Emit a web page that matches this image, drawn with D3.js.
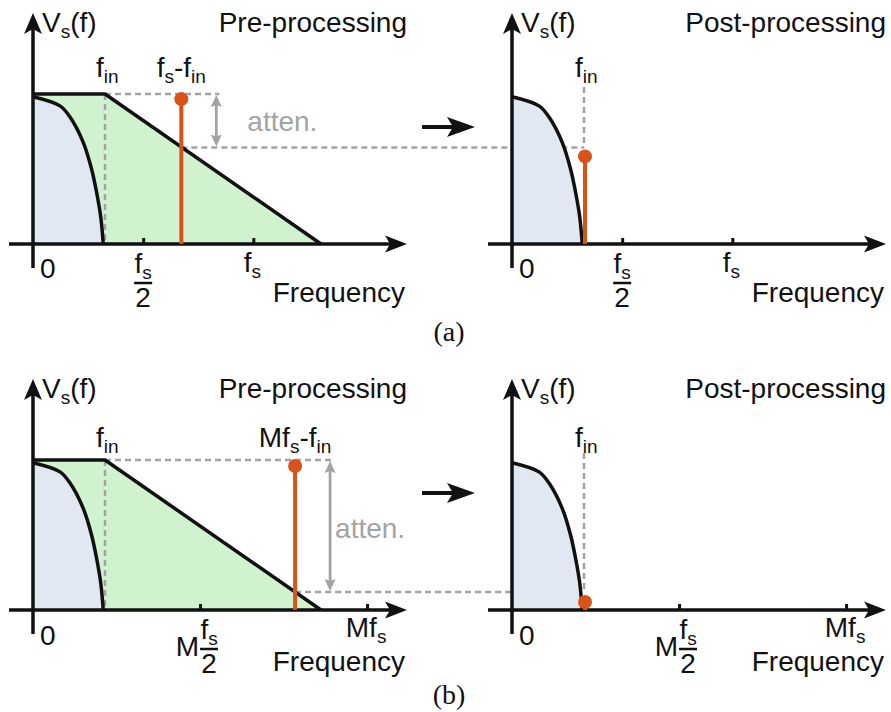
<!DOCTYPE html>
<meta charset="utf-8">
<style>
body { margin: 0; background: #fff; }
svg text { font-family: "Liberation Sans", Arial, Helvetica, sans-serif; fill: #111; }
svg text.caption { font-family: "Liberation Serif", "Times New Roman", serif; }
</style>
<body>
<script src="https://d3js.org/d3.v7.min.js"></script>
<script>
// spectra: x in units of f_in, y as a fraction of the passband level
var envelope = [[0, 0], [0, 1], [1, 1], [4, 0]];   // anti-alias filter response
var signal = [[0, 0.982], [0.375, 0.921], [0.514, 0.846], [0.699, 0.676],
              [0.815, 0.497], [0.885, 0.34], [0.94, 0.183], [0.976, 0]];

// one entry per row: (a) plain sampling, (b) oversampled by M
var captions = ["(a)", "(b)"];
var sampleRate = [3.06, 4.64];          // f_s and M·f_s, in units of f_in
var tickFractions = [0.5, 1];
var imagePre = [0.966, 0.96];           // image tone before filtering
var attenLevel = [0.644, 0.12];         // filter gain at the image
var imagePost = [0.584, 0.053];         // tone folded back to f_in
var halfPrefix = ["", "M"];
var fullLabels = [[["f", 0], ["s", 1]], [["Mf", 0], ["s", 1]]];
var imageLabels = [[["f", 0], ["s", 1], ["-f", 0], ["in", 1]],
                   [["Mf", 0], ["s", 1], ["-f", 0], ["in", 1]]];
var titles = ["Pre-processing", "Post-processing"];

// layout
var W = 891, H = 712;
var colX = [33, 512];
var axisY = [244, 610];
var unit = 72, ph = 150;
var black = "#111", grey = "#a3a3a3", orange = "#d95319";
var FS = 28;

var svg = d3.select("body").append("svg")
    .attr("width", W)
    .attr("height", H);

function rich(g, x, y, parts, anchor, size, color) {
  size = size || FS;
  var t = g.append("text")
      .attr("x", x).attr("y", y)
      .attr("text-anchor", anchor || "start")
      .style("font-size", size + "px");
  if (color) t.style("fill", color);
  var shift = 0;
  parts.forEach(function(p) {
    var s = p[1] ? Math.round(size * 0.22) : 0;
    t.append("tspan").text(p[0])
        .attr("dy", s - shift)
        .style("font-size", (p[1] ? size * 0.68 : size) + "px");
    shift = s;
  });
  return t;
}

function head(g, x, y, angle, len, half, notch, color) {
  g.append("path")
      .attr("d", "M0,0L" + (-len) + "," + (-half) + "L" + (-len + notch) + ",0L" + (-len) + "," + half + "Z")
      .attr("transform", "translate(" + x + "," + y + ") rotate(" + angle + ")")
      .attr("fill", color);
}

function fraction(g, cx, ay, prefix) {
  rich(g, cx, ay + 29, [["f", 0], ["s", 1]], "middle");
  g.append("line")
      .attr("x1", cx - 9).attr("x2", cx + 9)
      .attr("y1", ay + 39).attr("y2", ay + 39)
      .attr("stroke", black).attr("stroke-width", 2.5);
  g.append("text").attr("x", cx).attr("y", ay + 63)
      .attr("text-anchor", "middle").style("font-size", FS + "px").text("2");
  if (prefix) {
    g.append("text").attr("x", cx - 10).attr("y", ay + 46)
        .attr("text-anchor", "end").style("font-size", FS + "px").text(prefix);
  }
}

function dashed(g, x1, y1, x2, y2) {
  g.append("line")
      .attr("x1", x1).attr("y1", y1).attr("x2", x2).attr("y2", y2)
      .attr("stroke", grey).attr("stroke-width", 2.5)
      .attr("stroke-dasharray", "6,4");
}

captions.forEach(function(cap, r) {
  var ay = axisY[r];
  var y = d3.scaleLinear().domain([0, 1]).range([ay, ay - ph]);
  var xs = colX.map(function(x0) {
    return d3.scaleLinear().domain([0, 1]).range([x0, x0 + unit]);
  });
  var xl = xs[0], xr = xs[1];
  var fs = sampleRate[r];
  var stemX = xl(fs - 1);
  var arrowX = stemX + 35;

  xs.forEach(function(x, c) {
    var g = svg.append("g");
    var lineC = d3.line().x(function(d) { return x(d[0]); }).y(function(d) { return y(d[1]); });
    var curve = d3.line().curve(d3.curveCatmullRom)
        .x(function(d) { return x(d[0]); }).y(function(d) { return y(d[1]); });
    var area = d3.area().curve(d3.curveCatmullRom)
        .x(function(d) { return x(d[0]); }).y0(ay).y1(function(d) { return y(d[1]); });

    if (c === 0) {
      g.append("path").datum(envelope).attr("d", lineC).attr("fill", "#d0f2cf");
    }
    g.append("path").datum(signal).attr("d", area).attr("fill", "#e1e8f2");

    // guide lines
    if (c === 0) {
      dashed(g, x(1), y(1), x(1), ay);
      dashed(g, x(1), y(1), arrowX + 3, y(1));
      dashed(g, stemX, y(attenLevel[r]), xr(1), y(attenLevel[r]));
    } else {
      dashed(g, x(1), ay - 157, x(1), y(attenLevel[r]));
    }

    // outlines
    if (c === 0) {
      g.append("path").datum(envelope.slice(1)).attr("d", lineC)
          .attr("fill", "none").attr("stroke", black).attr("stroke-width", 3.5)
          .attr("stroke-linejoin", "round");
    }
    g.append("path").datum(signal).attr("d", curve)
        .attr("fill", "none").attr("stroke", black).attr("stroke-width", 3.5);

    // axes
    var x0 = x(0);
    g.append("line").attr("x1", x0 - 24).attr("x2", x0 + 360).attr("y1", ay).attr("y2", ay)
        .attr("stroke", black).attr("stroke-width", 3.5);
    head(g, x0 + 374, ay, 0, 22, 8.5, 5, black);
    g.append("line").attr("x1", x0).attr("x2", x0).attr("y1", ay + 24).attr("y2", ay - 218)
        .attr("stroke", black).attr("stroke-width", 3.5);
    head(g, x0, ay - 231, -90, 21, 9, 5, black);

    var axis = d3.axisBottom(x)
        .tickValues(tickFractions.map(function(f) { return f * fs; }))
        .tickSizeInner(-6).tickSizeOuter(0).tickFormat("");
    g.append("g").attr("transform", "translate(0," + ay + ")")
        .call(axis)
        .call(function(a) { a.select(".domain").remove(); })
        .selectAll("line").attr("stroke", black).attr("stroke-width", 3);

    // image tone
    var sx = c === 0 ? stemX : x(1) + 1;
    var lvl = c === 0 ? imagePre[r] : imagePost[r];
    g.append("line").attr("x1", sx).attr("x2", sx).attr("y1", ay).attr("y2", y(lvl))
        .attr("stroke", orange).attr("stroke-width", 4);
    g.append("circle").attr("cx", sx).attr("cy", y(lvl)).attr("r", 7).attr("fill", orange);

    // labels
    rich(g, x0 + 9, ay - 212, [["V", 0], ["s", 1], ["(f)", 0]]);
    g.append("text").attr("x", x0 + 374).attr("y", ay - 212).attr("text-anchor", "end")
        .style("font-size", FS + "px").text(titles[c]);
    rich(g, x(1) - 9, ay - 167 + r * 4, [["f", 0], ["in", 1]]);
    g.append("text").attr("x", x0 + 7).attr("y", ay + 34 + r)
        .style("font-size", FS + "px").text("0");
    g.append("text").attr("x", x0 + 372).attr("y", ay + 58 + r * 3).attr("text-anchor", "end")
        .style("font-size", FS + "px").text("Frequency");
    fraction(g, x(0.5 * fs) + (r ? 9 : 0), ay, halfPrefix[r]);
    rich(g, x(fs) - 1, ay + 28 - r, fullLabels[r], "middle");

    if (c === 0) {
      rich(g, stemX, ay - 167 + r * 4, imageLabels[r], "middle");
      // attenuation arrow
      var top = y(1), bot = y(attenLevel[r]);
      g.append("line").attr("x1", arrowX).attr("x2", arrowX).attr("y1", top + 6).attr("y2", bot - 6)
          .attr("stroke", grey).attr("stroke-width", 2.8);
      head(g, arrowX, top + 1, -90, 12, 5.5, 2, grey);
      head(g, arrowX, bot - 1, 90, 12, 5.5, 2, grey);
      g.append("text").attr("x", arrowX + (r ? 5 : 31)).attr("y", (top + bot) / 2 + 10 + r * 2)
          .style("font-size", FS + "px").style("fill", grey).text("atten.");
    }
  });

  // arrow between panels
  svg.append("line").attr("x1", 422).attr("x2", 462).attr("y1", ay - 117).attr("y2", ay - 117)
      .attr("stroke", black).attr("stroke-width", 4);
  head(svg, 475, ay - 117, 0, 28, 10, 6, black);

  svg.append("text").attr("class", "caption")
      .attr("x", 449).attr("y", ay + 97 - r * 3)
      .attr("text-anchor", "middle").style("font-size", "28px").text(cap);
});
</script>
</body>
